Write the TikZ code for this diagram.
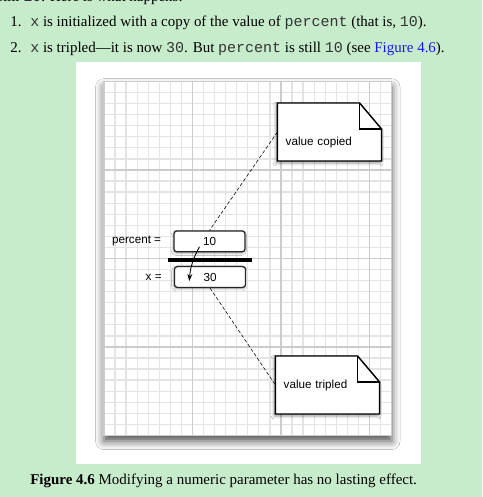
\documentclass[tikz,border=0pt]{standalone}
\usepackage{fontspec}
\setmainfont{Liberation Serif}
\setsansfont{Liberation Sans}
\setmonofont{Liberation Mono}
\usetikzlibrary{positioning,calc,arrows.meta,shadows.blur}
\definecolor{pagegreen}{RGB}{199,236,203}
\definecolor{linkblue}{RGB}{25,25,230}
\definecolor{gridminor}{RGB}{228,228,228}
\definecolor{gridmajor}{RGB}{204,204,204}
\newcommand{\code}[1]{{\ttfamily\color{black!80}#1}}
\begin{document}
\begin{tikzpicture}[x=0.025cm,y=-0.025cm,
    bodytext/.style={anchor=base west,inner sep=0,font=\fontsize{10.65}{12}\selectfont},
    varlabel/.style={inner sep=0,font=\sffamily\fontsize{8.3}{10}\selectfont},
    valbox/.style={draw=black!85,line width=0.9pt,rounded corners=2pt,fill=white,
      minimum width=1.775cm,minimum height=0.52cm,inner sep=0,
      font=\sffamily\fontsize{8.3}{10}\selectfont,
      blur shadow={shadow xshift=-0.5pt,shadow yshift=-1pt,shadow blur radius=1.5pt,shadow opacity=35}},
    notebox/.style={minimum width=2.59cm,minimum height=1.435cm,inner xsep=0.2cm,
      text width=2.19cm,align=left,font=\sffamily\fontsize{8.3}{10}\selectfont},
    noteline/.style={draw=black,line width=1pt,fill=white,
      blur shadow={shadow xshift=-1pt,shadow yshift=-1.5pt,shadow blur radius=2pt,shadow opacity=40}}]
  \fill[pagegreen] (0,0) rectangle (482,497);
  \useasboundingbox (0,0) rectangle (482,497);
  % text above the figure
  \node[bodytext,anchor=base east] (prev) at (183,2) {is still \code{10}. Here is what happens:};
  \node[bodytext] (num1) at (10,26.5) {1.};
  \node[bodytext] (item1) at (30,26.5) {\code{x} is initialized with a copy of the value of \code{percent} (that is, \code{10}).};
  \node[bodytext] (num2) at (10,52.5) {2.};
  \node[bodytext] (item2) at (30,52.5) {\code{x} is tripled---it is now \code{30}. But \code{percent} is still \code{10} (see \textcolor{linkblue}{Figure 4.6}).};
  % white panel with grid paper
  \fill[white] (76,62.5) rectangle (421,464);
  \fill[white,blur shadow={shadow xshift=0pt,shadow yshift=-4pt,shadow blur radius=6pt,shadow opacity=70}]
    (104,81.5) rectangle (391.6,435.5);
  \foreach \i in {0,...,26}
    \draw[gridminor,line width=0.9pt] ({104+\i*11.06},81.5) -- ++(0,354);
  \foreach \j in {0,...,32}
    \draw[gridminor,line width=0.9pt] (104,{81.5+\j*11.06}) -- ++(287.6,0);
  \foreach \i in {0,8,16,24}
    \draw[gridmajor,line width=1pt] ({104+\i*11.06},81.5) -- ++(0,354);
  \foreach \j in {0,8,16,24,32}
    \draw[gridmajor,line width=1pt] (104,{81.5+\j*11.06}) -- ++(287.6,0);
  \draw[gridmajor,line width=1pt] (104,81.5) rectangle (391.6,435.5);
  % variables
  \node[valbox] (pbox) at (209.5,241.4) {10};
  \node[valbox] (xbox) at (210,277) {30};
  \node[varlabel,left=0.3cm of pbox] (plabel) {percent =};
  \node[varlabel,left=0.3cm of xbox] (xlabel) {x =};
  \draw[line width=2.8pt] (168,260) -- (252,260);
  \coordinate (tailp) at ($(pbox.center)+(-10,5.3)$);
  \coordinate (headx) at ($(xbox.center)+(-20.7,4)$);
  \draw[-{Stealth[length=5pt,width=3.5pt]},semithick] (tailp) to[bend right=12] (headx);
  % notes
  \node[notebox,text height=0.68cm,text depth=0pt] (copied) at (329.5,132) {};
  \node[notebox] (tripled) at (327.5,385) {};
  \foreach \n in {copied,tripled}{
    \draw[noteline] (\n.south west) -- (\n.north west) -- ([xshift=-0.55cm]\n.north east)
      -- ([yshift=-0.65cm]\n.north east) -- (\n.south east) -- cycle;
    \draw[line width=1pt] ([xshift=-0.55cm]\n.north east) |- ([yshift=-0.65cm]\n.north east);
  }
  \node[notebox,text height=0.68cm,text depth=0pt] (copiedtext) at (copied) {value copied};
  \node[notebox] (tripledtext) at (tripled) {value tripled};
  \draw[dashed,dash pattern=on 2.5pt off 1.5pt,thin] (copied.west) -- (pbox.north);
  \draw[dashed,dash pattern=on 2.5pt off 1.5pt,thin] (xbox.south) -- (tripled.west);
  % caption
  \node[bodytext] (caption) at (30,484) {\textbf{Figure 4.6} Modifying a numeric parameter has no lasting effect.};
\end{tikzpicture}
\end{document}
